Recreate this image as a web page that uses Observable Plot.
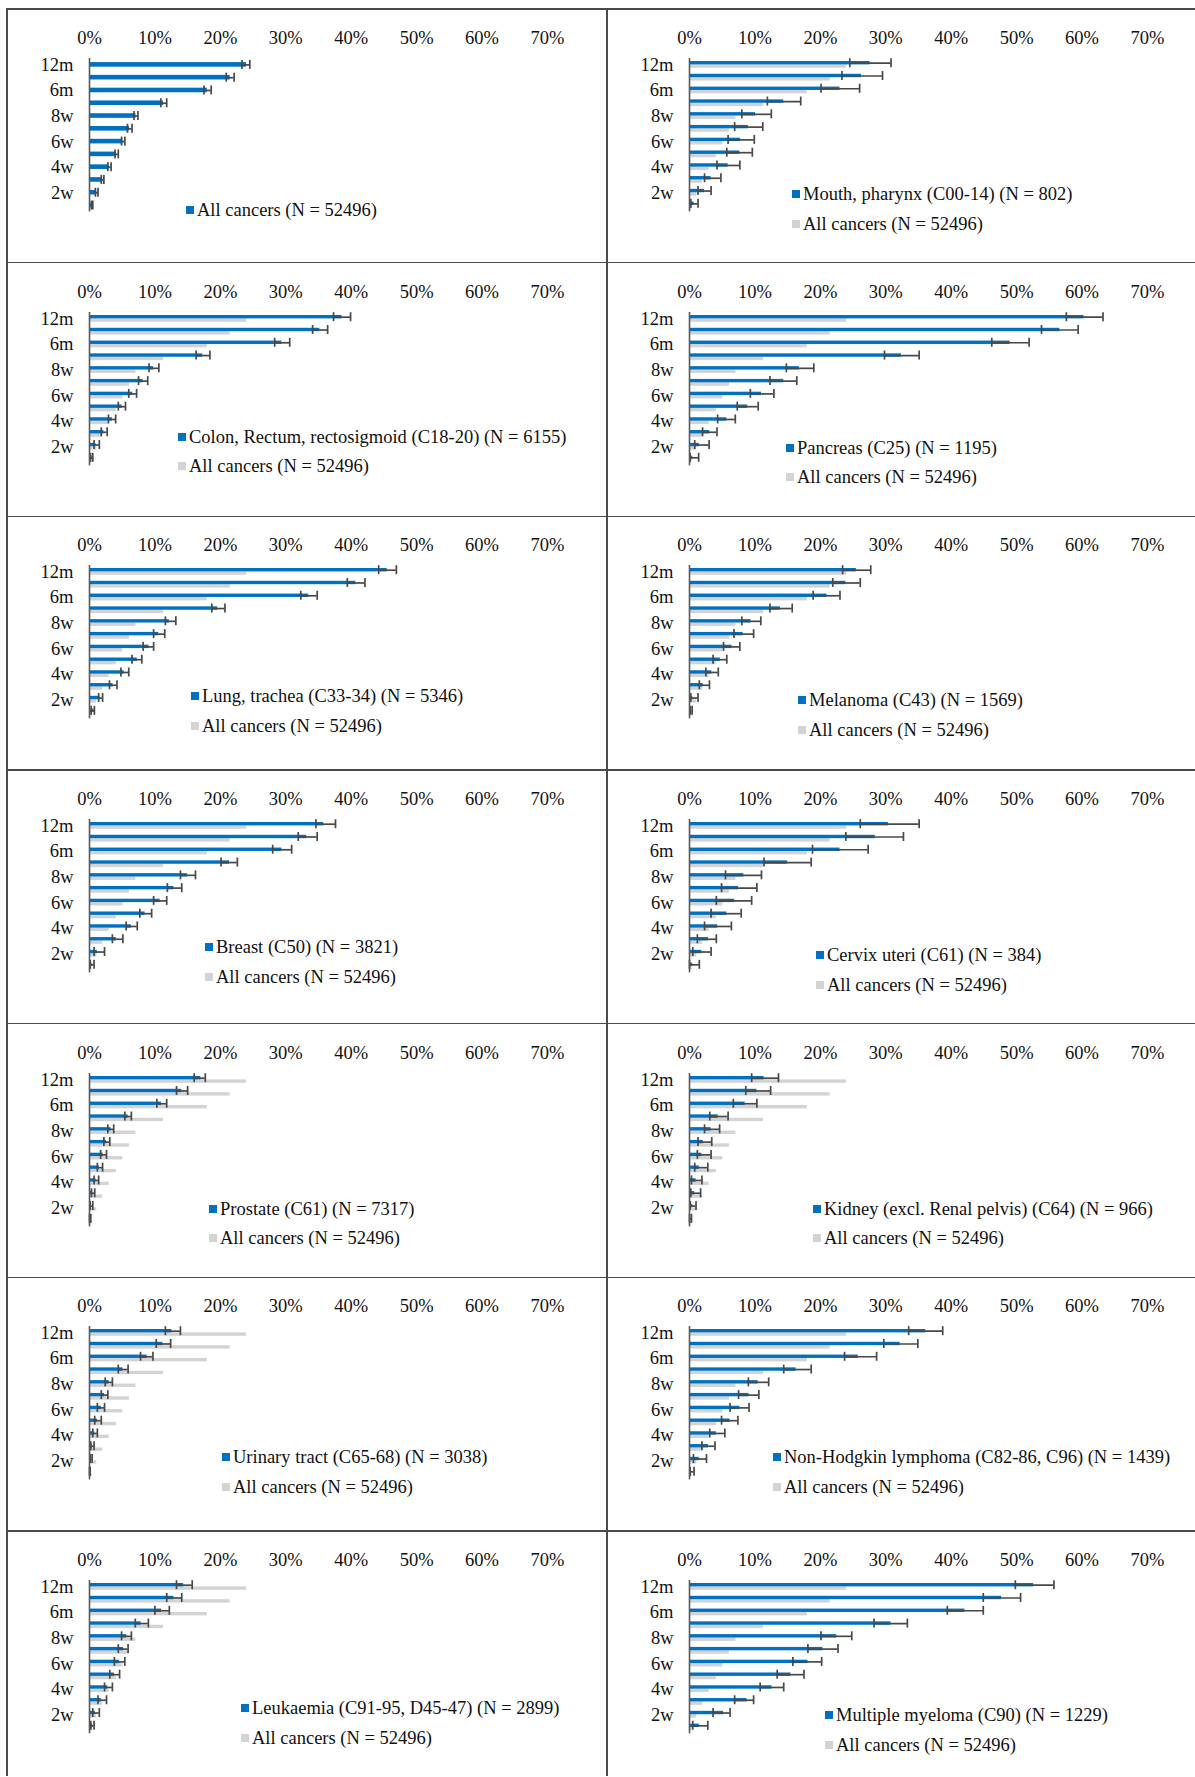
<!DOCTYPE html>
<html><head><meta charset="utf-8">
<script src="https://cdn.jsdelivr.net/npm/d3@7"></script>
<script src="https://cdn.jsdelivr.net/npm/@observablehq/plot@0.6"></script>
<style>
html,body{margin:0;padding:0;background:#fff;overflow:hidden;width:1195px;height:1777px}
#root{position:relative;width:1195px;height:1777px;overflow:hidden}
.panel{position:absolute;width:600px;height:254px}
.panel svg{position:absolute;left:0;top:0}
.vline,.hline{position:absolute;background:#4a4a4a}
.legend{position:absolute;display:flex;align-items:center;font-family:"Liberation Serif",serif;font-size:18.5px;color:#111;white-space:nowrap;line-height:20px;height:20px}
.sw{width:8px;height:8px;margin-right:3px;flex:none}
</style></head><body><div id="root"></div><script>
// ---------- data (percent) ----------
const categories = ["12m","9m","6m","3m","8w","7w","6w","5w","4w","3w","2w","1w"];
const yTickLabels = ["12m","6m","8w","6w","4w","2w"];
const xTicks = [0, 0.1, 0.2, 0.3, 0.4, 0.5, 0.6, 0.7];

const allValue = [24.0, 21.5, 18.0, 11.3, 7.1, 6.1, 5.1, 4.1, 3.0, 2.0, 1.1, 0.4];
const allLo    = [23.3, 20.9, 17.5, 10.9, 6.8, 5.8, 4.9, 3.9, 2.8, 1.8, 0.9, 0.3];
const allHi    = [24.5, 22.1, 18.6, 11.8, 7.4, 6.5, 5.4, 4.4, 3.3, 2.2, 1.3, 0.5];

const mouthValue = [27.6, 26.3, 23.0, 14.4, 10.1, 9.0, 7.8, 7.7, 5.9, 3.3, 2.3, 0.7];
const mouthLo    = [24.5, 23.3, 20.1, 11.9, 8.0, 6.9, 5.9, 5.7, 4.2, 2.3, 1.3, 0.2];
const mouthHi    = [30.8, 29.5, 26.0, 17.0, 12.5, 11.2, 9.9, 9.6, 7.7, 4.8, 3.3, 1.3];

const colonValue = [38.6, 35.2, 29.4, 17.3, 9.8, 8.2, 6.6, 5.0, 3.5, 2.2, 1.0, 0.4];
const colonLo    = [37.3, 34.1, 28.3, 16.3, 9.1, 7.5, 6.0, 4.4, 2.9, 1.8, 0.7, 0.15];
const colonHi    = [39.9, 36.4, 30.6, 18.4, 10.6, 8.9, 7.2, 5.5, 4.0, 2.7, 1.5, 0.5];

const pancreasValue = [60.3, 56.6, 49.0, 32.4, 16.8, 14.4, 11.0, 8.9, 5.7, 3.1, 1.5, 0.5];
const pancreasLo    = [57.6, 53.8, 46.2, 29.8, 14.8, 12.3, 9.3, 7.3, 4.3, 2.0, 0.8, 0.1];
const pancreasHi    = [63.2, 59.4, 51.9, 35.1, 19.0, 16.4, 12.9, 10.5, 7.0, 4.2, 3.0, 1.4];

const lungValue = [45.5, 40.7, 33.5, 19.6, 12.2, 10.6, 9.1, 7.3, 5.3, 3.6, 1.6, 0.7];
const lungLo    = [44.2, 39.4, 32.3, 18.7, 11.6, 9.8, 8.2, 6.5, 4.8, 3.05, 1.4, 0.25];
const lungHi    = [46.9, 42.1, 34.8, 20.7, 13.2, 11.5, 9.8, 8.0, 6.0, 4.2, 2.0, 0.75];

const melanomaValue = [25.5, 23.9, 21.0, 13.9, 9.4, 8.2, 6.5, 4.7, 3.4, 2.1, 0.5, 0.3];
const melanomaLo    = [23.4, 21.9, 18.9, 12.3, 8.0, 6.8, 5.2, 3.6, 2.5, 1.5, 0.2, 0.1];
const melanomaHi    = [27.7, 26.1, 23.0, 15.7, 10.9, 9.8, 7.7, 5.7, 4.4, 3.05, 1.3, 0.4];

const breastValue = [35.8, 33.2, 29.4, 21.4, 15.0, 12.9, 10.8, 8.5, 6.4, 4.1, 1.2, 0.4];
const breastLo    = [34.6, 31.9, 28.0, 20.1, 13.9, 11.9, 9.8, 7.7, 5.6, 3.5, 0.7, 0.1];
const breastHi    = [37.6, 34.8, 30.9, 22.6, 16.2, 14.1, 11.8, 9.5, 7.3, 5.1, 2.3, 0.7];

const cervixValue = [30.4, 28.4, 23.0, 15.0, 8.3, 7.5, 6.9, 5.7, 4.3, 2.9, 1.9, 0.5];
const cervixLo    = [26.1, 23.9, 18.8, 11.4, 5.5, 4.9, 4.1, 3.3, 2.3, 1.2, 0.5, 0.0];
const cervixHi    = [35.1, 32.7, 27.3, 18.6, 11.0, 10.3, 9.5, 7.9, 6.4, 4.1, 3.3, 1.5];

const prostateValue = [17.0, 14.1, 11.0, 5.9, 3.3, 2.6, 2.1, 1.5, 1.0, 0.5, 0.3, 0.1];
const prostateLo    = [16.0, 13.3, 10.3, 5.4, 2.8, 2.2, 1.7, 1.2, 0.7, 0.3, 0.1, 0.0];
const prostateHi    = [17.7, 15.0, 11.8, 6.4, 3.7, 3.1, 2.6, 2.0, 1.4, 0.8, 0.5, 0.2];

const kidneyValue = [11.4, 10.3, 8.5, 4.4, 3.3, 2.1, 1.9, 1.5, 1.0, 0.8, 0.5, 0.1];
const kidneyLo    = [9.5, 8.6, 6.7, 3.1, 2.3, 1.3, 1.2, 0.8, 0.3, 0.2, 0.1, 0.0];
const kidneyHi    = [13.6, 12.4, 10.3, 5.9, 4.6, 3.4, 3.3, 2.8, 1.9, 1.7, 1.0, 0.3];

const urinaryValue = [12.6, 11.2, 8.8, 5.1, 3.0, 2.3, 1.8, 1.2, 0.8, 0.4, 0.2, 0.1];
const urinaryLo    = [11.6, 10.2, 7.8, 4.4, 2.4, 1.8, 1.2, 0.8, 0.5, 0.2, 0.1, 0.0];
const urinaryHi    = [13.9, 12.4, 9.7, 5.9, 3.5, 2.8, 2.3, 1.8, 1.2, 0.7, 0.4, 0.1];

const nhlValue = [36.1, 32.2, 25.8, 16.3, 10.5, 9.1, 7.7, 6.2, 4.1, 2.9, 1.5, 0.3];
const nhlLo    = [33.5, 29.7, 23.7, 14.4, 9.0, 7.5, 6.2, 4.9, 3.1, 1.9, 0.6, 0.1];
const nhlHi    = [38.7, 34.9, 28.6, 18.6, 12.1, 10.6, 9.1, 7.4, 5.4, 3.9, 2.6, 0.7];

const leukValue = [14.4, 12.9, 11.0, 7.9, 5.7, 5.2, 4.6, 3.8, 2.8, 1.8, 0.9, 0.5];
const leukLo    = [13.3, 11.8, 10.0, 7.0, 4.9, 4.4, 3.8, 3.1, 2.3, 1.3, 0.5, 0.2];
const leukHi    = [15.7, 14.1, 12.2, 9.0, 6.4, 5.9, 5.4, 4.6, 3.5, 2.6, 1.5, 0.7];

const myelomaValue = [52.6, 47.7, 42.1, 30.8, 22.5, 20.4, 18.1, 15.5, 12.6, 8.8, 5.2, 1.5];
const myelomaLo    = [49.8, 44.9, 39.4, 28.2, 20.1, 18.1, 15.8, 13.4, 10.8, 6.9, 3.6, 0.5];
const myelomaHi    = [55.7, 50.6, 44.9, 33.3, 24.8, 22.7, 20.2, 17.5, 14.4, 9.8, 6.2, 2.8];

const siteLabels = [
  "All cancers (N = 52496)",
  "Mouth, pharynx (C00-14) (N = 802)",
  "Colon, Rectum, rectosigmoid (C18-20) (N = 6155)",
  "Pancreas (C25) (N = 1195)",
  "Lung, trachea (C33-34) (N = 5346)",
  "Melanoma (C43) (N = 1569)",
  "Breast (C50) (N = 3821)",
  "Cervix uteri (C61) (N = 384)",
  "Prostate (C61) (N = 7317)",
  "Kidney (excl. Renal pelvis) (C64) (N = 966)",
  "Urinary tract (C65-68) (N = 3038)",
  "Non-Hodgkin lymphoma (C82-86, C96) (N = 1439)",
  "Leukaemia (C91-95, D45-47) (N = 2899)",
  "Multiple myeloma (C90) (N = 1229)"
];
const allCancersLabel = "All cancers (N = 52496)";

const siteSeries = [
  [allValue, allLo, allHi],
  [mouthValue, mouthLo, mouthHi],
  [colonValue, colonLo, colonHi],
  [pancreasValue, pancreasLo, pancreasHi],
  [lungValue, lungLo, lungHi],
  [melanomaValue, melanomaLo, melanomaHi],
  [breastValue, breastLo, breastHi],
  [cervixValue, cervixLo, cervixHi],
  [prostateValue, prostateLo, prostateHi],
  [kidneyValue, kidneyLo, kidneyHi],
  [urinaryValue, urinaryLo, urinaryHi],
  [nhlValue, nhlLo, nhlHi],
  [leukValue, leukLo, leukHi],
  [myelomaValue, myelomaLo, myelomaHi]
];

// ---------- layout ----------
const legendPos = [
  [183, 201], [189, 185], [175, 174], [183, 185], [188, 180], [195, 184], [202, 177],
  [213, 185], [206, 185], [210, 185], [219, 180], [170, 180], [238, 177], [222, 184]
];
const legendGap = 29.5;
const BLUE = "#0070C0", GRAY = "#D3D3D3", ERR = "#484848", AXIS = "#595959";
const ROW_H = 253.67, TOP0 = 9;
const colLeft = [7, 607];
const MT = 49, PLOT_H = 153.4, SVG_H = 254;
const band = PLOT_H / categories.length;

const root = document.getElementById("root");

function makePlot(idx) {
  const [v, lo, hi] = siteSeries[idx];
  const withGray = idx > 0;
  const rows = categories.map((c, i) => ({cat: c, value: v[i] / 100, lo: lo[i] / 100, hi: hi[i] / 100, all: allValue[i] / 100}));
  const marks = [];
  let blueTop, blueH;
  if (withGray) {
    blueH = 3.4; blueTop = 3;
    marks.push(Plot.barX(rows, {x: "all", y: "cat", fill: GRAY, insetTop: blueTop + blueH, insetBottom: band - blueTop - 2 * blueH}));
  } else {
    blueH = 4.6; blueTop = (band - blueH) / 2;
  }
  marks.push(Plot.barX(rows, {x: "value", y: "cat", fill: BLUE, insetTop: blueTop, insetBottom: band - blueTop - blueH}));
  const cy = blueTop + blueH / 2;
  const dy = cy - band / 2;
  const capH = 9;
  const capTop = cy - capH / 2, capBottom = band - cy - capH / 2;
  marks.push(Plot.ruleY(rows, {y: "cat", x1: "lo", x2: "hi", dy, stroke: ERR, strokeWidth: 1.7}));
  marks.push(Plot.tickX(rows, {x: "lo", y: "cat", insetTop: capTop, insetBottom: capBottom, stroke: ERR, strokeWidth: 1.7}));
  marks.push(Plot.tickX(rows, {x: "hi", y: "cat", insetTop: capTop, insetBottom: capBottom, stroke: ERR, strokeWidth: 1.7}));
  marks.push(Plot.ruleX([0], {stroke: AXIS, strokeWidth: 1.6}));
  return Plot.plot({
    width: 600, height: SVG_H,
    marginLeft: 82, marginRight: 60, marginTop: MT, marginBottom: SVG_H - MT - PLOT_H,
    style: {fontFamily: "Liberation Serif", fontSize: "18.5px", color: "#111", background: "transparent", overflow: "visible"},
    x: {domain: [0, 0.7], axis: "top", ticks: xTicks, tickFormat: d3.format(".0%"), tickSize: 0, tickPadding: 15, label: null},
    y: {domain: categories, padding: 0, round: false, tickSize: 0, tickPadding: 16, label: null, tickFormat: d => yTickLabels.includes(d) ? d : ""},
    marks
  });
}

for (let idx = 0; idx < siteLabels.length; idx++) {
  const r = Math.floor(idx / 2), c = idx % 2;
  const top = TOP0 + r * ROW_H, left = colLeft[c];
  const panel = document.createElement("div");
  panel.className = "panel";
  panel.style.left = left + "px";
  panel.style.top = top + "px";
  panel.appendChild(makePlot(idx));
  const entries = idx === 0 ? [[siteLabels[0], BLUE]] : [[siteLabels[idx], BLUE], [allCancersLabel, GRAY]];
  entries.forEach(([txt, col], k) => {
    const lg = document.createElement("div");
    lg.className = "legend";
    lg.style.left = (legendPos[idx][0] - 4) + "px";
    lg.style.top = (legendPos[idx][1] + k * legendGap - 10) + "px";
    const sw = document.createElement("span");
    sw.className = "sw"; sw.style.background = col;
    const tx = document.createElement("span");
    tx.textContent = txt;
    lg.appendChild(sw); lg.appendChild(tx);
    panel.appendChild(lg);
  });
  root.appendChild(panel);
}
// borders
for (let r = 0; r < 7; r++) {
  const h = document.createElement("div");
  h.className = "hline";
  h.style.left = "7px"; h.style.width = "1188px";
  h.style.top = (TOP0 + r * ROW_H - 0.75) + "px"; h.style.height = "1.5px";
  root.appendChild(h);
}
colLeft.forEach(x => {
  const v = document.createElement("div");
  v.className = "vline";
  v.style.left = (x - 0.75) + "px"; v.style.width = "1.5px";
  v.style.top = (TOP0 - 0.75) + "px"; v.style.height = (1777 - TOP0) + "px";
  root.appendChild(v);
});
</script></body></html>
